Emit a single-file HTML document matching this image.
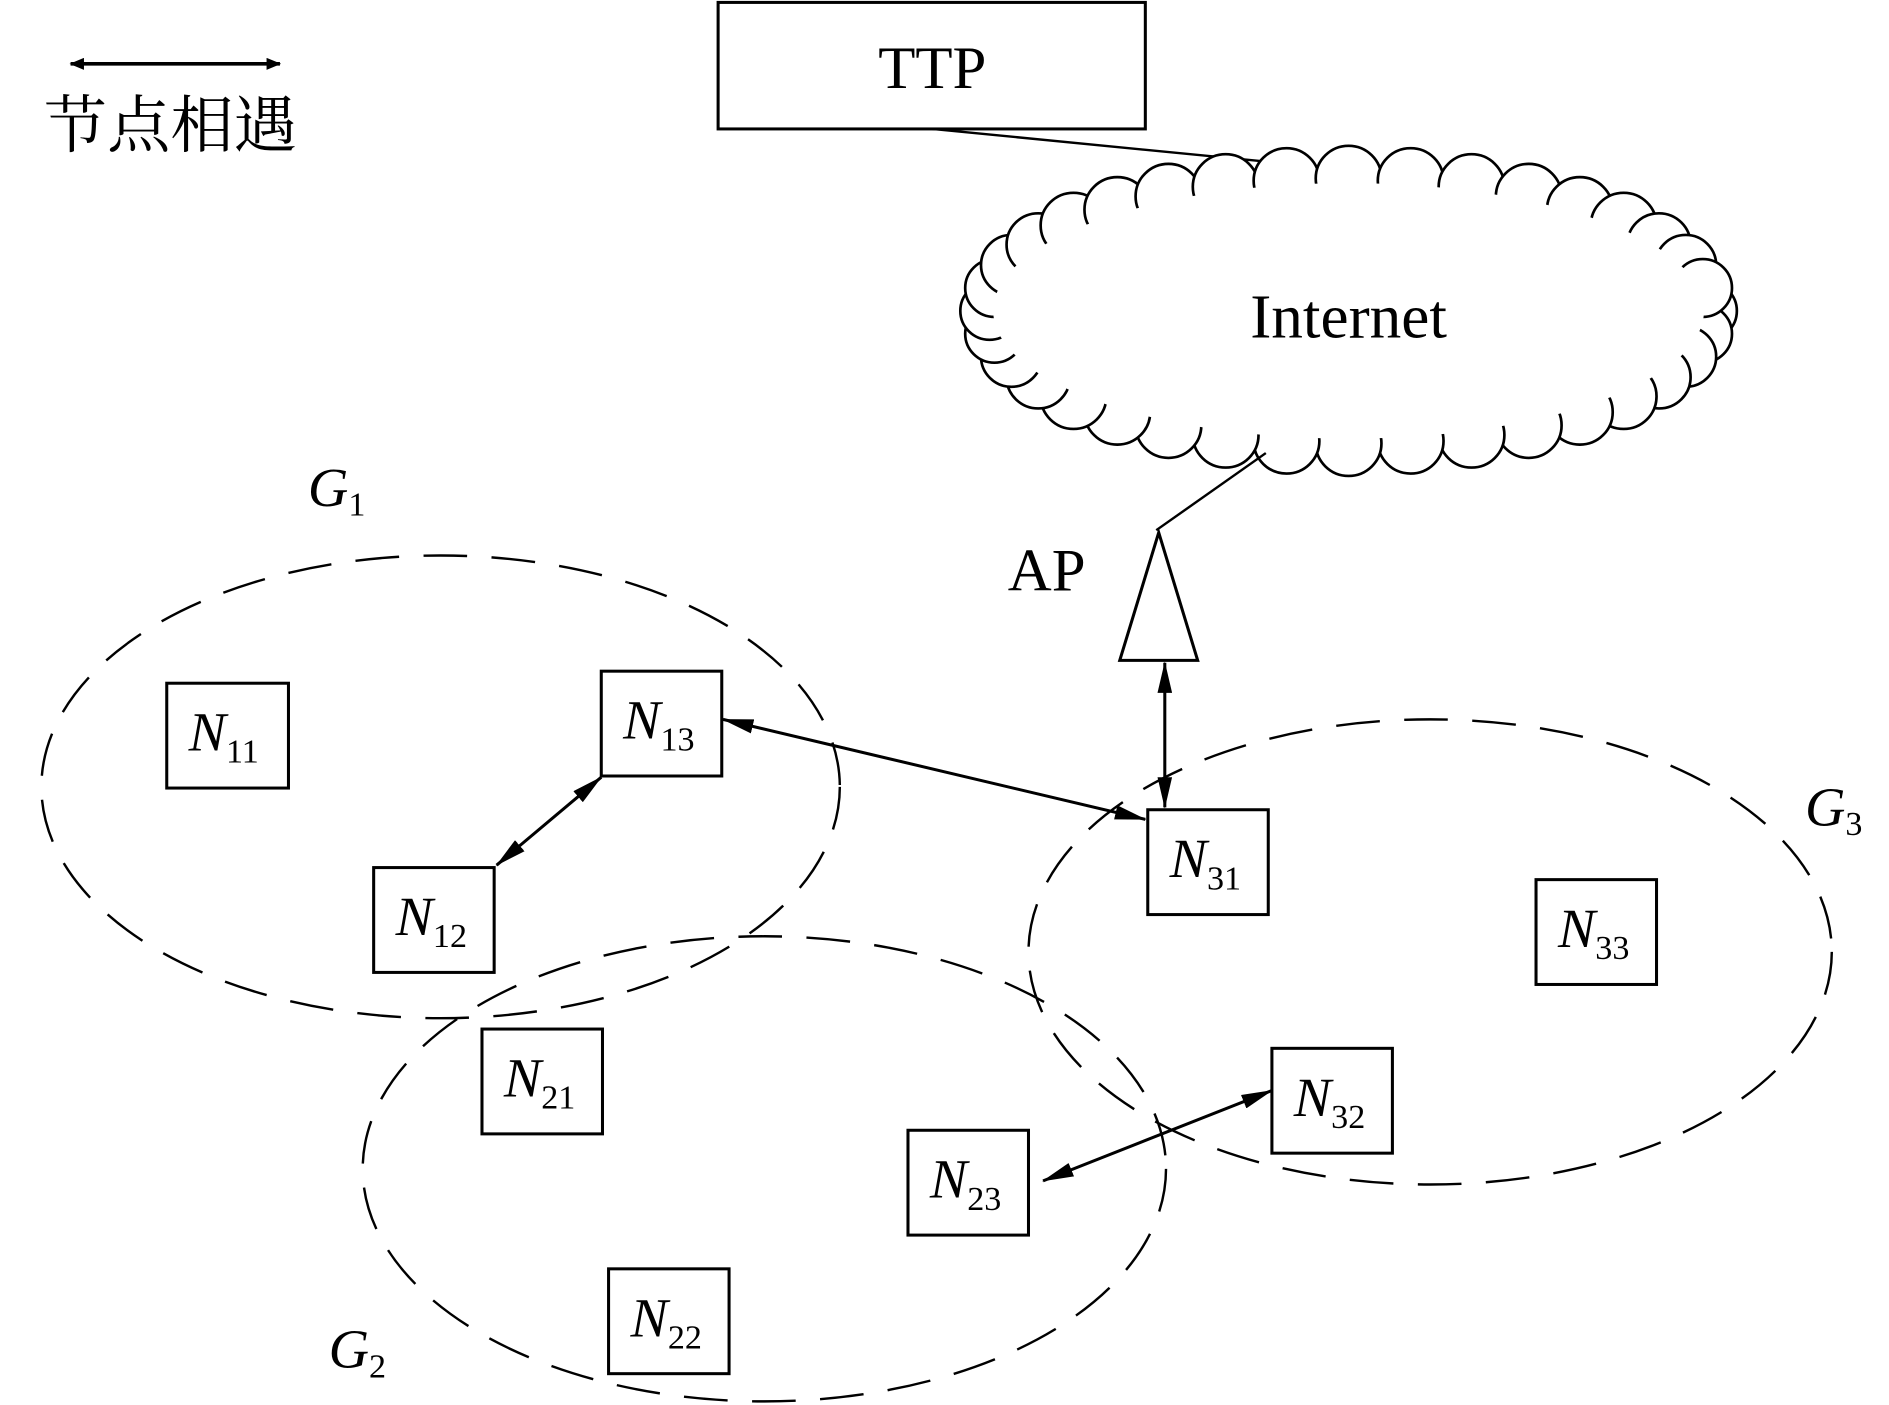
<!DOCTYPE html>
<html><head><meta charset="utf-8"><style>
html,body{margin:0;padding:0;background:#fff;}
svg{display:block;}
text{font-family:"Liberation Serif","Noto Serif CJK SC",serif;fill:#000;}
.it{font-style:italic;font-size:46px;}
.sb{font-style:normal;font-size:28px;}
</style></head><body>
<svg width="1889" height="1405" viewBox="0 0 1552 1166" preserveAspectRatio="none" xmlns="http://www.w3.org/2000/svg">
<defs>
<marker id="a" markerWidth="12" markerHeight="10" refX="11" refY="5" orient="auto-start-reverse" markerUnits="userSpaceOnUse" viewBox="0 0 12 10"><path d="M0,0 L12,5 L0,10 z" fill="#000"/></marker>
<marker id="b" markerWidth="26" markerHeight="12" refX="25" refY="6" orient="auto-start-reverse" markerUnits="userSpaceOnUse" viewBox="0 0 26 12"><path d="M0,0 L26,6 L0,12 z" fill="#000"/></marker>
</defs>
<line x1="58" y1="53" x2="230" y2="53" stroke="#000" stroke-width="3" marker-start="url(#a)" marker-end="url(#a)"/>
<text x="36" y="122" style="font-family:'Noto Serif CJK SC','Noto Sans CJK SC',serif;font-size:52px">节点相遇</text>
<rect x="590" y="2" width="351" height="105" fill="none" stroke="#000" stroke-width="2.5"/>
<text x="766" y="73" text-anchor="middle" font-size="50">TTP</text>
<line x1="766" y1="107" x2="1120" y2="142" stroke="#000" stroke-width="2"/>
<g fill="#fff" stroke="#000" stroke-width="2.2">
<circle cx="1403" cy="258" r="24"/><circle cx="1399" cy="277" r="24"/><circle cx="1385" cy="296" r="25"/><circle cx="1363" cy="313" r="26"/><circle cx="1334" cy="329" r="27"/><circle cx="1298" cy="342" r="27"/><circle cx="1256" cy="353" r="27"/><circle cx="1209" cy="361" r="27"/><circle cx="1159" cy="366" r="27"/><circle cx="1108" cy="368" r="27"/><circle cx="1057" cy="366" r="27"/><circle cx="1007" cy="361" r="27"/><circle cx="960" cy="353" r="27"/><circle cx="918" cy="342" r="27"/><circle cx="882" cy="329" r="27"/><circle cx="853" cy="313" r="26"/><circle cx="831" cy="296" r="25"/><circle cx="817" cy="277" r="24"/><circle cx="813" cy="258" r="24"/>
<circle cx="817" cy="239" r="24"/><circle cx="831" cy="220" r="25"/><circle cx="853" cy="203" r="26"/><circle cx="882" cy="187" r="27"/><circle cx="918" cy="174" r="27"/><circle cx="960" cy="163" r="27"/><circle cx="1007" cy="155" r="27"/><circle cx="1057" cy="150" r="27"/><circle cx="1108" cy="148" r="27"/><circle cx="1159" cy="150" r="27"/><circle cx="1209" cy="155" r="27"/><circle cx="1256" cy="163" r="27"/><circle cx="1298" cy="174" r="27"/><circle cx="1334" cy="187" r="27"/><circle cx="1363" cy="203" r="26"/><circle cx="1385" cy="220" r="25"/><circle cx="1399" cy="239" r="24"/>
</g>
<ellipse cx="1108" cy="258" rx="292" ry="106" fill="#fff"/>
<text x="1108" y="280" text-anchor="middle" font-size="52">Internet</text>
<polyline points="1040,376 950,440" fill="none" stroke="#000" stroke-width="2"/>
<polygon points="952,442 920,548 984,548" fill="#fff" stroke="#000" stroke-width="2.5"/>
<text x="828" y="490" font-size="50">AP</text>
<line x1="957" y1="550" x2="957" y2="670" stroke="#000" stroke-width="2.5" marker-start="url(#b)" marker-end="url(#b)"/>
<g fill="none" stroke="#000" stroke-width="2" stroke-dasharray="36,20">
<ellipse cx="362" cy="653" rx="328" ry="192"/>
<ellipse cx="628" cy="970" rx="330" ry="193"/>
<ellipse cx="1175" cy="790" rx="330" ry="193"/>
</g>
<line x1="594" y1="597" x2="941" y2="680" stroke="#000" stroke-width="2.5" marker-start="url(#b)" marker-end="url(#b)"/>
<line x1="494" y1="645" x2="408" y2="718" stroke="#000" stroke-width="2.5" marker-start="url(#b)" marker-end="url(#b)"/>
<line x1="1045" y1="905" x2="857" y2="980" stroke="#000" stroke-width="2.5" marker-start="url(#b)" marker-end="url(#b)"/>
<g fill="#fff" stroke="#000" stroke-width="2.5">
<rect x="137" y="567" width="100" height="87"/><rect x="494" y="557" width="99" height="87"/><rect x="307" y="720" width="99" height="87"/><rect x="943" y="672" width="99" height="87"/><rect x="1262" y="730" width="99" height="87"/><rect x="396" y="854" width="99" height="87"/><rect x="1045" y="870" width="99" height="87"/><rect x="746" y="938" width="99" height="87"/><rect x="500" y="1053" width="99" height="87"/>
</g>
<text class="it" x="155" y="623">N<tspan class="sb" dy="10">11</tspan></text>
<text class="it" x="512" y="613">N<tspan class="sb" dy="10">13</tspan></text>
<text class="it" x="325" y="776">N<tspan class="sb" dy="10">12</tspan></text>
<text class="it" x="961" y="728">N<tspan class="sb" dy="10">31</tspan></text>
<text class="it" x="1280" y="786">N<tspan class="sb" dy="10">33</tspan></text>
<text class="it" x="414" y="910">N<tspan class="sb" dy="10">21</tspan></text>
<text class="it" x="1063" y="926">N<tspan class="sb" dy="10">32</tspan></text>
<text class="it" x="764" y="994">N<tspan class="sb" dy="10">23</tspan></text>
<text class="it" x="518" y="1109">N<tspan class="sb" dy="10">22</tspan></text>
<text class="it" x="253" y="420">G<tspan class="sb" dy="8">1</tspan></text>
<text class="it" x="270" y="1135">G<tspan class="sb" dy="8">2</tspan></text>
<text class="it" x="1483" y="685">G<tspan class="sb" dy="8">3</tspan></text>
</svg>
</body></html>
